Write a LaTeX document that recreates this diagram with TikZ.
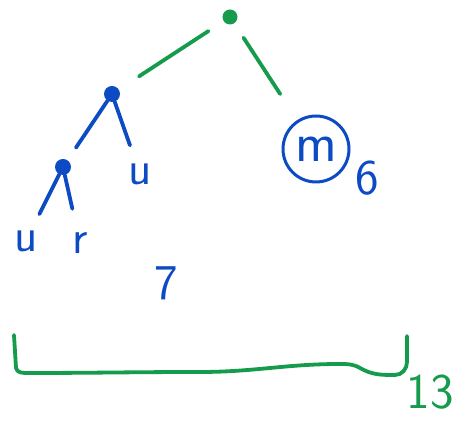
\documentclass[tikz,border=0pt]{standalone}
\usepackage{tikz}

\definecolor{penGreen}{RGB}{20,155,75}
\definecolor{penBlue}{RGB}{12,75,195}

\tikzset{
	gdot/.style={circle, fill=penGreen, inner sep=0pt, minimum size=15pt},
	bdot/.style={circle, fill=penBlue, inner sep=0pt, minimum size=16pt},
	gedge/.style={draw=penGreen, line width=3.8pt, line cap=round},
	bedge/.style={draw=penBlue, line width=3.8pt, line cap=round},
	leaf/.style={text=penBlue, inner sep=0pt, font=\fontsize{48}{48}\selectfont\sffamily},
	weight/.style={inner sep=0pt, font=\fontsize{50}{50}\selectfont\sffamily},
}

\begin{document}
\begin{tikzpicture}[x=1pt, y=1pt]
				\useasboundingbox (0,0) rectangle (464,430);
				% Tree nodes
				\node[gdot] (root) at (230,413) {};
				\node[bdot] (inner) at (112,336) {};
				\node[bdot] (lower) at (63,263) {};
				\node[leaf] (uTop) at (140,256) {u};
				\node[leaf] (uLow) at (26,189) {u};
				\node[leaf] (rLow) at (80,187) {r};
				\node[leaf, font=\fontsize{56}{56}\selectfont\sffamily, draw=penBlue, line width=3pt, circle, minimum size=66pt] (mLeaf) at (316,281) {m};
				% Weights
				\node[weight, text=penBlue] (six) at (367,252) {6};
				\node[weight, text=penBlue] (seven) at (166,147) {7};
				\node[weight, text=penGreen] (total) at (430,38) {13};
				% Green edges
				\draw[gedge, shorten <=18pt, shorten >=24pt] (root) -- (inner);
				\draw[gedge, shorten <=17pt, shorten >=31pt] (root) -- (mLeaf);
				% Blue edges
				\draw[bedge, shorten >=15pt] (inner) -- (lower);
				\draw[bedge, shorten >=19pt] (inner) -- (uTop);
				\draw[bedge, shorten >=18pt] (lower) -- (uLow);
				\draw[bedge, shorten >=24pt] (lower) -- (rLow);
				% Brace
				\draw[gedge, line join=round] (14,95) -- (16,62) to[out=-80, in=180] (28,57)
					to[out=0, in=180] (200,58) to[out=0, in=180] (340,66)
					to[out=0, in=150] (360,62) to[out=-30, in=180] (395,55)
					to[out=0, in=-90] (407,68) -- (407,94);
			\end{tikzpicture}
\end{document}
